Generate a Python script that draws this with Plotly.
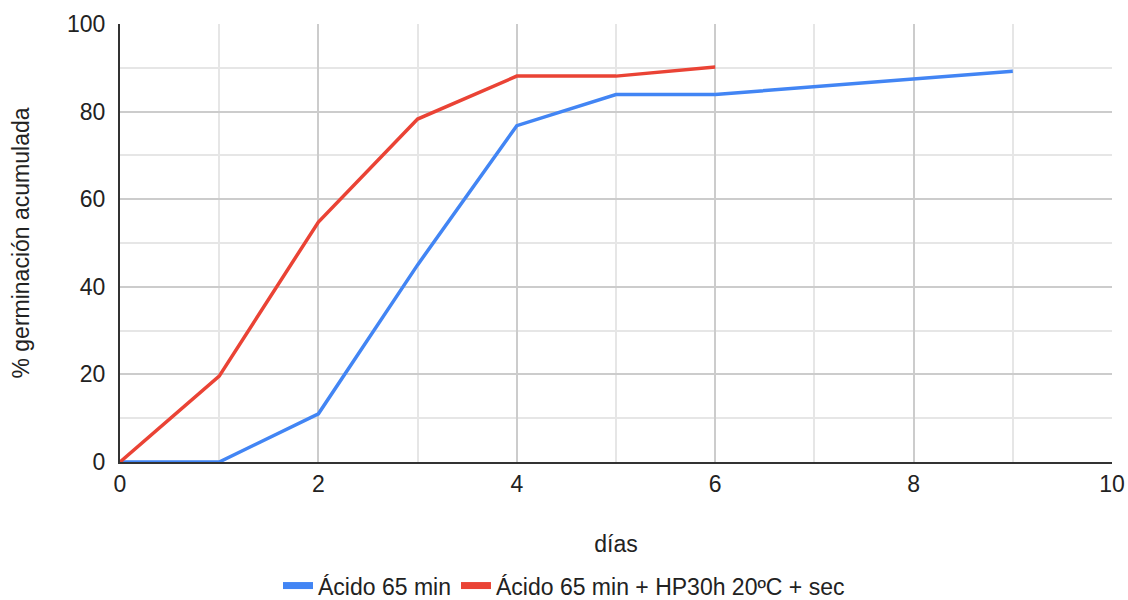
import plotly.graph_objects as go

dias_a = [0, 1, 2, 3, 4, 5, 6, 7, 8, 9]
acido_65 = [0, 0, 11, 45, 76.8, 83.9, 83.9, 85.7, 87.5, 89.2]

dias_b = [0, 1, 2, 3, 4, 5, 6]
acido_hp = [0, 19.6, 54.8, 78.3, 88.1, 88.1, 90.2]

nombres = ["Ácido 65 min", "Ácido 65 min + HP30h 20ºC + sec"]
colores = ["#4285F4", "#EA4335"]

fig = go.Figure()
fig.add_trace(go.Scatter(x=dias_a, y=acido_65, mode="lines", name=nombres[0],
                         line=dict(color=colores[0], width=3.5), showlegend=False))
fig.add_trace(go.Scatter(x=dias_b, y=acido_hp, mode="lines", name=nombres[1],
                         line=dict(color=colores[1], width=3.5), showlegend=False))
# entradas de leyenda con trazo grueso
for n, c in zip(nombres, colores):
    fig.add_trace(go.Scatter(x=[None], y=[None], mode="lines", name=n,
                             line=dict(color=c, width=7)))

fig.update_layout(
    width=1128, height=600,
    margin=dict(l=120, r=16, t=24, b=138),
    plot_bgcolor="white", paper_bgcolor="white",
    font=dict(family="Liberation Sans, Arial, sans-serif", size=23, color="#222222"),
    showlegend=True,
    legend=dict(orientation="h", xref="container", x=0.5, xanchor="center",
                yref="container", y=0.024, yanchor="middle",
                font=dict(size=23, color="#222222"), itemwidth=30, traceorder="normal"),
)
fig.update_xaxes(
    range=[0, 10], dtick=2, tick0=0, automargin=False,
    showgrid=True, gridcolor="#cccccc", gridwidth=1.5,
    minor=dict(dtick=1, showgrid=True, gridcolor="#e6e6e6", gridwidth=1.5),
    showline=True, linecolor="#333333", linewidth=2,
    zeroline=False, ticks="",
    title=dict(text="días", standoff=40, font=dict(size=23)),
    tickfont=dict(size=23),
)
fig.update_yaxes(
    range=[0, 100], dtick=20, tick0=0, automargin=False,
    showgrid=True, gridcolor="#cccccc", gridwidth=1.5,
    minor=dict(dtick=10, showgrid=True, gridcolor="#e6e6e6", gridwidth=1.5),
    showline=True, linecolor="#333333", linewidth=2,
    zeroline=False, ticks="", ticklabelstandoff=8,
    title=dict(text="% germinación acumulada", standoff=31, font=dict(size=23)),
    tickfont=dict(size=23),
)

fig.write_html("out.html", config={"displayModeBar": False},
               post_script="document.body.style.margin='0';")
